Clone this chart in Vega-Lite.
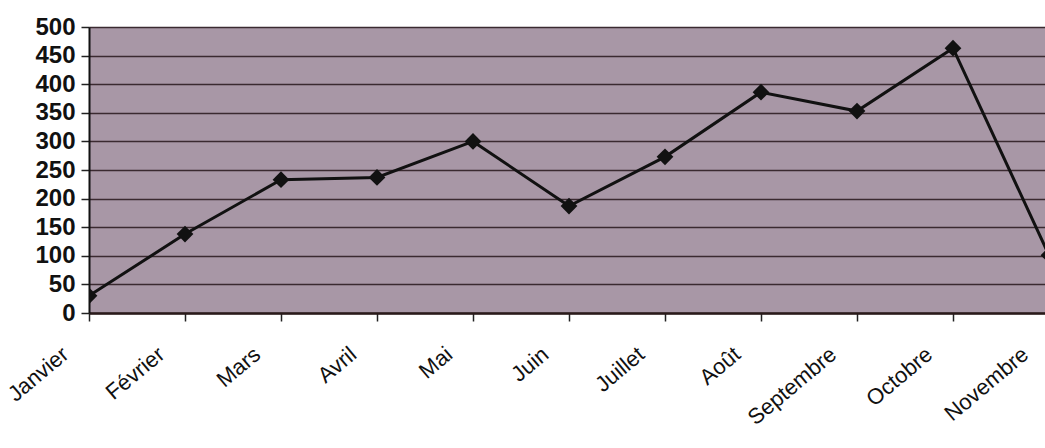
{
  "$schema": "https://vega.github.io/schema/vega-lite/v6.json",
  "autosize": "none",
  "padding": {"left": 89, "top": 27, "right": 0, "bottom": 135},
  "width": 956,
  "height": 286,
  "background": "white",
  "config": {
    "view": {"fill": "#a897a6", "stroke": null},
    "font": "Liberation Sans"
  },
  "data": {
    "values": [
      {"mois": "Janvier", "valeur": 30},
      {"mois": "Février", "valeur": 138},
      {"mois": "Mars", "valeur": 233},
      {"mois": "Avril", "valeur": 237},
      {"mois": "Mai", "valeur": 300},
      {"mois": "Juin", "valeur": 187},
      {"mois": "Juillet", "valeur": 273},
      {"mois": "Août", "valeur": 386},
      {"mois": "Septembre", "valeur": 353},
      {"mois": "Octobre", "valeur": 463},
      {"mois": "Novembre", "valeur": 101}
    ]
  },
  "encoding": {
    "x": {
      "field": "mois", "type": "ordinal", "sort": null,
      "scale": {"type": "point", "padding": 0, "range": [0, 960]},
      "axis": {
        "title": null, "labelAngle": -40, "labelAlign": "right", "labelBaseline": "middle",
        "labelFontSize": 22, "labelColor": "#111", "labelPadding": 30, "labelOffset": -24,
        "labelOverlap": false, "labelFlush": false, "labelBound": false,
        "tickSize": 8, "tickColor": "#222", "tickWidth": 1.5,
        "domainColor": "#2a1a1a", "domainWidth": 2.5, "grid": false
      }
    },
    "y": {
      "field": "valeur", "type": "quantitative",
      "scale": {"domain": [0, 500], "nice": false},
      "axis": {
        "title": null, "values": [0, 50, 100, 150, 200, 250, 300, 350, 400, 450, 500],
        "labelFontSize": 24, "labelFontWeight": "bold", "labelColor": "#111", "labelPadding": 6,
        "labelOverlap": false, "labelFlush": false, "labelBound": false,
        "tickSize": 8, "tickColor": "#222", "tickWidth": 1.5,
        "domainColor": "#111", "domainWidth": 2,
        "grid": true, "gridColor": "#3a2a30", "gridWidth": 1.5, "gridOpacity": 1
      }
    }
  },
  "layer": [
    {
      "mark": {"type": "line", "color": "#111111", "strokeWidth": 3, "clip": true}
    },
    {
      "mark": {"type": "point", "shape": "diamond", "filled": true, "color": "#111111", "size": 280, "opacity": 1, "clip": true}
    }
  ]
}
